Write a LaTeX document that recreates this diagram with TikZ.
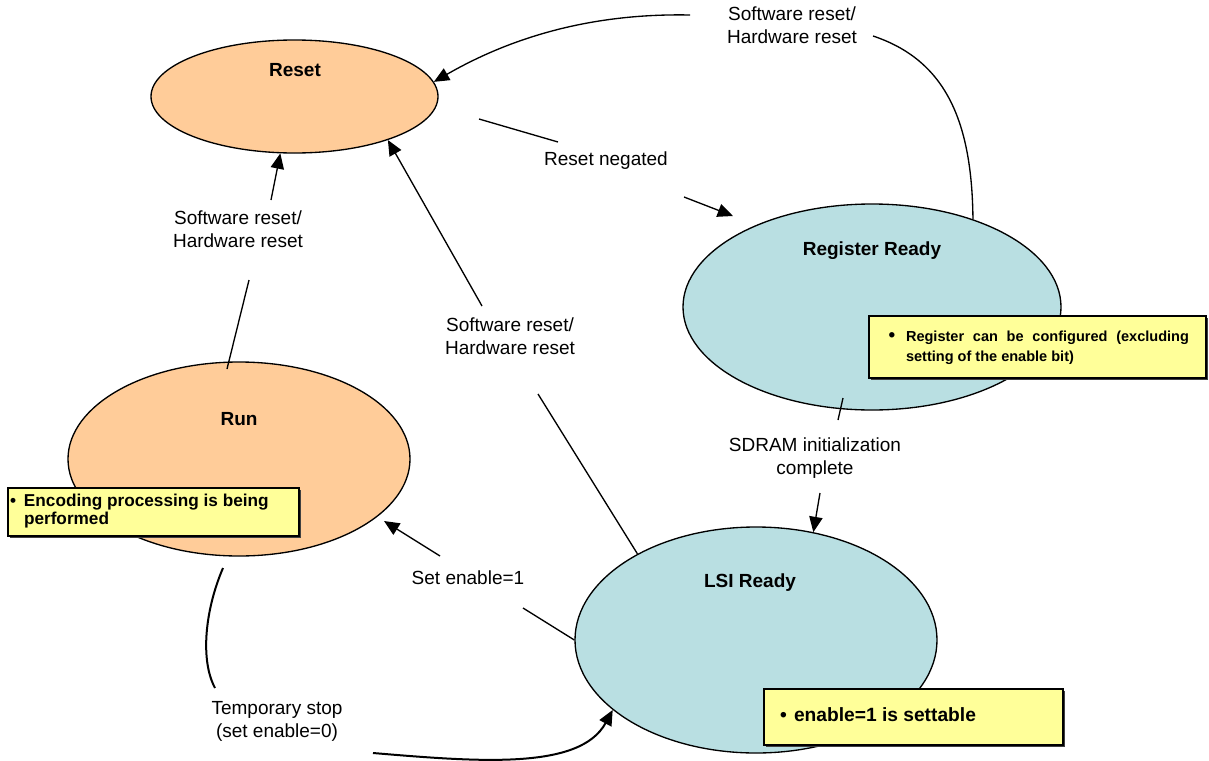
\documentclass[tikz,border=0pt]{standalone}
\usepackage{fontspec}
\setmainfont{Liberation Sans}
\usetikzlibrary{shapes.geometric,arrows.meta,shadows}
\definecolor{peach}{HTML}{FFCC99}
\definecolor{paleblue}{HTML}{B9DFE2}
\definecolor{noteyellow}{HTML}{FFFF99}
\begin{document}
\begin{tikzpicture}[x=0.75pt,y=-0.75pt,
  state/.style={ellipse, draw=black, line width=1pt, inner sep=0pt},
  stname/.style={font=\bfseries\fontsize{14.25}{17}\selectfont, inner sep=0pt},
  cond/.style={font=\fontsize{14.25}{17.25}\selectfont, align=center, inner sep=0pt},
  link/.style={line width=1pt},
  boldlink/.style={line width=1.5pt},
  tip/.style={-{Triangle[length=11.5pt,width=10pt]}},
  notebox/.style={draw=black, line width=1.5pt, fill=noteyellow, anchor=north west,
    inner sep=0pt, drop shadow={shadow xshift=1.5pt, shadow yshift=-1.5pt, fill=black!75, opacity=1}},
  bul/.style={},
]
\useasboundingbox (0,0) rectangle (1209,760);

% states
\node[state, fill=peach, minimum width=215.25pt, minimum height=84.75pt] (reset) at (294.5,96.5) {};
\node[state, fill=paleblue, minimum width=283.5pt, minimum height=154.5pt] (rr) at (872,307) {};
\node[state, fill=peach, minimum width=256.5pt, minimum height=145.5pt] (run) at (239,459) {};
\node[state, fill=paleblue, minimum width=271.5pt, minimum height=169.5pt] (lsi) at (756,640) {};

\node[stname] (resetT) at (295,70) {Reset};
\node[stname] (rrT) at (872,251) {Register Ready};
\node[stname] (runT) at (239,419) {Run};
\node[stname] (lsiT) at (750,583) {LSI Ready};

% transition labels
\node[cond] (lblTop) at (792,25) {Software reset/\\Hardware reset};
\node[cond] (lblNeg) at (606,161) {Reset negated};
\node[cond] (lblRun) at (238,229) {Software reset/\\Hardware reset};
\node[cond] (lblLsi) at (510,336) {Software reset/\\Hardware reset};
\node[cond] (lblSdram) at (815,458) {SDRAM initialization\\complete};
\node[cond] (lblSet) at (468,578) {Set enable=1};
\node[cond] (lblStop) at (277,721) {Temporary stop\\(set enable=0)};

% loose ends of the broken connector lines
\coordinate (topA) at (873,36);
\coordinate (topB) at (690,15);
\coordinate (negA) at (479,119);
\coordinate (negB) at (558,142);
\coordinate (negC) at (684,197);
\coordinate (negD) at (733,216);
\coordinate (runA) at (227,369);
\coordinate (runB) at (249,280);
\coordinate (runC) at (271,200);
\coordinate (lsiA) at (538,394);
\coordinate (lsiB) at (482,306);
\coordinate (sdA) at (843,398);
\coordinate (sdB) at (838,420);
\coordinate (sdC) at (820,493);
\coordinate (setA) at (523,608);
\coordinate (setB) at (440,556);
\coordinate (setC) at (384,521);
\coordinate (stopA) at (223,568);
\coordinate (stopB) at (215,688);
\coordinate (stopC) at (373,753);

% Register Ready -> Reset
\draw[link] (rr.41) .. controls (972,120) and (945,60) .. (topA);
\draw[link,tip] (topB) .. controls (590,13) and (510,38) .. (reset.6);
% Reset -> Register Ready
\draw[link] (negA) -- (negB);
\draw[link,tip] (negC) -- (negD);
% Run -> Reset
\draw[link] (runA) -- (runB);
\draw[link,tip] (runC) -- (reset.256);
% LSI Ready -> Reset
\draw[link] (lsi.144) -- (lsiA);
\draw[link,tip] (lsiB) -- (reset.-25);
% Register Ready -> LSI Ready
\draw[link] (sdA) -- (sdB);
\draw[link,tip] (sdC) -- (lsi.62);
% LSI Ready -> Run
\draw[link] (lsi.west) -- (setA);
\draw[link,tip] (setB) -- (setC);
% Run -> LSI Ready
\draw[boldlink] (stopA) .. controls (205,610) and (200,660) .. (stopB);
\draw[boldlink,tip] (stopC) .. controls (480,762) and (580,770) .. (lsi.206);

% notes
\node[notebox, minimum width=252.75pt, minimum height=46.5pt] (rrNote) at (868,315)
  {\fontsize{10.9}{15}\selectfont\bfseries\hyphenpenalty=10000
   \begin{tabular}{@{}p{15pt}@{}p{212.25pt}@{}}\hspace{2pt}\scalebox{1.3}{\textbullet} & Register can be configured (excluding setting of the enable bit)\end{tabular}};
\node[notebox, minimum width=218.25pt, minimum height=36pt] (runNote) at (7,487)
  {\fontsize{12.9}{13.5}\selectfont\bfseries
   \begin{tabular}{@{}p{10.5pt}@{}p{204.75pt}@{}}\textbullet & \raggedright Encoding processing is being performed\end{tabular}};
\node[notebox, minimum width=224.25pt, minimum height=42pt] (lsiNote) at (763,688)
  {\fontsize{14.4}{17}\selectfont\bfseries
   \begin{tabular}{@{}p{10.5pt}@{}p{189.75pt}@{}}\textbullet & \raggedright enable=1 is settable\end{tabular}};
\end{tikzpicture}
\end{document}
